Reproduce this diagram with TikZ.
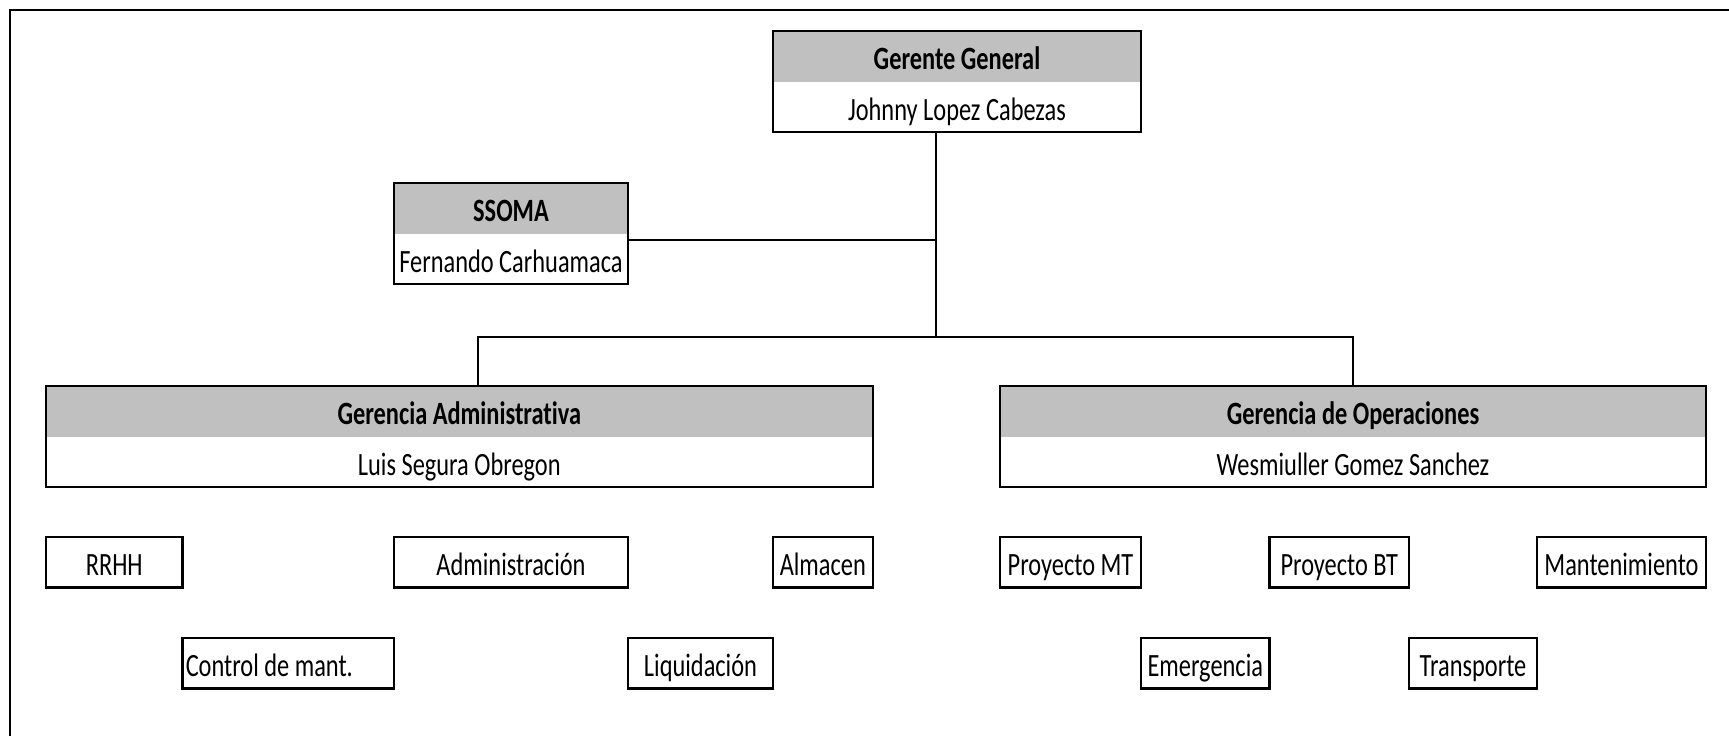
\documentclass[tikz,border=0pt]{standalone}
\usepackage{fontspec}
\setmainfont{Carlito}[FakeStretch=0.75, Ligatures=NoCommon]
\usetikzlibrary{fit}
\definecolor{hdrgray}{HTML}{C0C0C0}
\newcommand{\cellfont}{\fontsize{32.5}{36}\selectfont}
\tikzset{
  cellbase/.style={rectangle, inner sep=0pt, outer sep=0pt, anchor=north west,
    font=\cellfont, text height=38.5pt, text depth=12pt},
  hdr/.style={cellbase, fill=hdrgray, font=\cellfont\bfseries},
  namecell/.style={cellbase, fill=white},
  outline/.style={draw=black, line width=2.2pt, inner sep=0pt, fill=none},
  unit/.style={cellbase, draw=black, line width=2.2pt, fill=white},
  link/.style={draw=black, line width=2pt},
}
\begin{document}
\begin{tikzpicture}[x=1pt, y=-1pt]
\useasboundingbox (0,0) rectangle (1729,736);
\fill[white] (0,0) rectangle (1729,736);
% frame (top and left visible)
\draw[line width=2.2pt] (10,736) -- (10,10) -- (1729,10);

% Gerente General
\node[hdr, minimum width=368pt] (ggh) at (773,31) {Gerente General};
\node[namecell, minimum width=368pt] (ggn) at (773,81.5) {Johnny Lopez Cabezas};
\node[outline, fit=(ggh)(ggn)] (gg) {};

% SSOMA
\node[hdr, minimum width=234pt] (ssh) at (394,183) {SSOMA};
\node[namecell, minimum width=234pt] (ssn) at (394,233.5) {Fernando Carhuamaca};
\node[outline, fit=(ssh)(ssn)] (ss) {};

% Gerencia Administrativa
\node[hdr, minimum width=826.6pt] (gah) at (46,386) {Gerencia Administrativa};
\node[namecell, minimum width=826.6pt] (gan) at (46,436.5) {Luis Segura Obregon};
\node[outline, fit=(gah)(gan)] (ga) {};

% Gerencia de Operaciones
\node[hdr, minimum width=706pt] (goh) at (1000,386) {Gerencia de Operaciones};
\node[namecell, minimum width=706pt] (gon) at (1000,436.5) {Wesmiuller Gomez Sanchez};
\node[outline, fit=(goh)(gon)] (go) {};

% Units, first row
\node[unit, minimum width=136.5pt] (rrhh) at (46,537) {RRHH};
\node[unit, minimum width=234pt] (adm) at (394,537) {Administración};
\node[unit, minimum width=99.6pt] (alm) at (773,537) {Almacen};
\node[unit, minimum width=141pt] (pmt) at (1000,537) {Proyecto MT};
\node[unit, minimum width=139.5pt] (pbt) at (1269.5,537) {Proyecto BT};
\node[unit, minimum width=169pt] (mant) at (1537,537) {Mantenimiento};

% Units, second row
\node[unit, minimum width=211.5pt] (ctrl) at (182.5,638) {\makebox[205pt][l]{Control de mant.}};
\node[unit, minimum width=145pt] (liq) at (628,638) {Liquidación};
\node[unit, minimum width=128.5pt] (emer) at (1141,638) {Emergencia};
\node[unit, minimum width=128pt] (trans) at (1409,638) {Transporte};

% connectors
\coordinate (trunk) at (935.7,336.7);
\coordinate (ssj) at (935.7,240);
\coordinate (bl) at (477.7,336.7);
\coordinate (br) at (1353.3,336.7);
\draw[link] (trunk |- gg.south) -- (trunk);
\draw[link] (ss.east |- ssj) -- (ssj);
\draw[link] (bl |- ga.north) -- (bl) -- (br) -- (br |- go.north);
\end{tikzpicture}
\end{document}
